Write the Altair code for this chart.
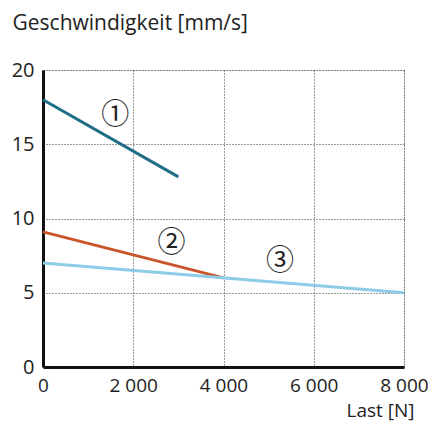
import altair as alt
import pandas as pd

# data
series = ["1", "1", "2", "2", "3", "3"]
last_n = [0, 3000, 0, 4000, 0, 8000]
speed = [18.0, 12.8, 9.1, 6.0, 7.0, 5.0]

label_text = ["①", "②", "③"]
label_x = [1600, 2850, 5250]
label_y = [16.9, 8.3, 7.1]

colors = ["#1f6e87", "#c9562b", "#8ecbe6"]

lines = pd.DataFrame({"series": series, "x": last_n, "y": speed})
labels = pd.DataFrame({"t": label_text, "x": label_x, "y": label_y})

FONT = "Open Sans"
FS = 20
fmt = "replace(format(datum.value, ','), ',', ' ')"

xscale = alt.Scale(domain=[0, 8000], nice=False)
yscale = alt.Scale(domain=[0, 20], nice=False)

xaxis = alt.Axis(
    values=[0, 2000, 4000, 6000, 8000], labelExpr=fmt, ticks=False,
    grid=True, gridDash=[1, 2], gridColor="#333", gridWidth=1,
    domainColor="#111", domainWidth=3, labelFontSize=19, labelFont=FONT,
    labelColor="#222", labelPadding=9, labelFlush=False,
    title="Last [N]", titleFont=FONT, titleFontSize=19, titleFontWeight="normal",
    titleColor="#222", titleX=371, titleY=49, titleAlign="right",
    titleBaseline="alphabetic", titleAnchor="end",
)
yaxis = alt.Axis(
    values=[0, 5, 10, 15, 20], ticks=False,
    grid=True, gridDash=[1, 2], gridColor="#333", gridWidth=1,
    domainColor="#111", domainWidth=3, labelFontSize=FS, labelFont=FONT,
    labelColor="#222", labelPadding=9, labelFlush=False,
    title="Geschwindigkeit [mm/s]", titleFont=FONT, titleFontSize=21,
    titleFontWeight="normal", titleColor="#222", titleAngle=0,
    titleX=-31, titleY=-41, titleAlign="left", titleBaseline="alphabetic",
)

base_lines = alt.Chart(lines).mark_line(strokeWidth=3, strokeCap="butt").encode(
    x=alt.X("x:Q", scale=xscale, axis=xaxis),
    y=alt.Y("y:Q", scale=yscale, axis=yaxis),
    color=alt.Color("series:N", scale=alt.Scale(domain=["1", "2", "3"], range=colors), legend=None),
    order=alt.Order("series:N"),
)

text = alt.Chart(labels).mark_text(fontSize=28, color="#222", font="Noto Sans CJK JP").encode(
    x=alt.X("x:Q", scale=xscale),
    y=alt.Y("y:Q", scale=yscale),
    text="t:N",
)

chart = alt.layer(base_lines, text).properties(
    width=361, height=297,
    autosize=alt.AutoSizeParams(type="none"),
    padding={"left": 35, "top": 62, "right": 24, "bottom": 55},
).configure_view(stroke=None).configure(background="white")

chart.save("out.html", embed_options={"renderer": "svg", "actions": False})
